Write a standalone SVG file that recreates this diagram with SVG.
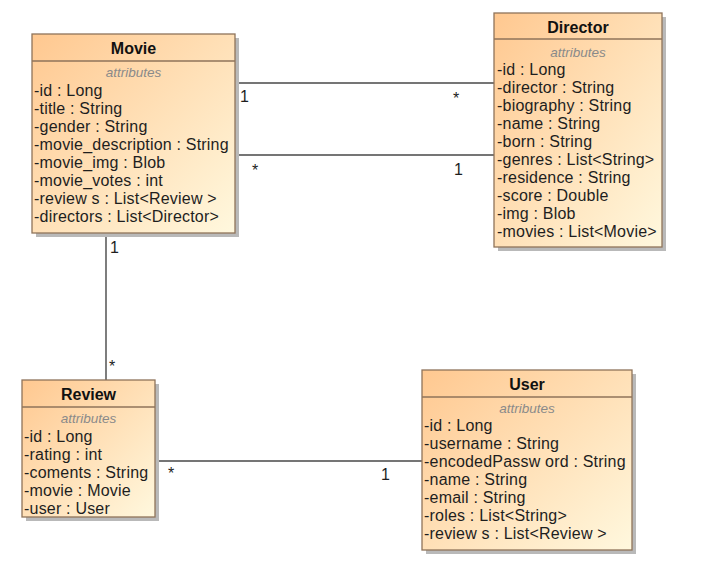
<svg xmlns="http://www.w3.org/2000/svg" width="704" height="572" viewBox="0 0 704 572">
<defs>
<linearGradient id="fill" x1="0" y1="0" x2="1" y2="1">
<stop offset="0" stop-color="#FFC890"/>
<stop offset="1" stop-color="#FFF8DE"/>
</linearGradient>
</defs>
<style>
.shadow{fill:#B9B9B9}
.box{fill:url(#fill);stroke:#8F735A;stroke-width:1.3}
.sep{stroke:#8F735A;stroke-width:1.3}
.title{font-family:"Liberation Sans",Arial,sans-serif;font-size:16px;font-weight:bold;fill:#111;text-anchor:middle}
.attrs{font-family:"Liberation Sans",Arial,sans-serif;font-size:13.5px;font-style:italic;fill:#8A8A8A;text-anchor:middle}
.attr{font-family:"Liberation Sans",Arial,sans-serif;font-size:16px;letter-spacing:0.2px;fill:#1E1E1E}
.conn{stroke:#474747;stroke-width:1.4;fill:none}
.mult{font-family:"Liberation Sans",Arial,sans-serif;font-size:16px;fill:#1E1E1E}
</style>
<rect width="704" height="572" fill="#FFFFFF"/>

<g id="connectors">
<line class="conn" x1="235" y1="83" x2="494" y2="83"/>
<line class="conn" x1="235" y1="155" x2="494" y2="155"/>
<line class="conn" x1="106" y1="233" x2="106" y2="380"/>
<line class="conn" x1="155" y1="461" x2="422" y2="461"/>
<text class="mult" x="240" y="102">1</text>
<text class="mult" x="453" y="104">*</text>
<text class="mult" x="252" y="176">*</text>
<text class="mult" x="454" y="175">1</text>
<text class="mult" x="110" y="253">1</text>
<text class="mult" x="109" y="372">*</text>
<text class="mult" x="168" y="479">*</text>
<text class="mult" x="381" y="480">1</text>
</g>

<g id="Movie">
<rect class="shadow" x="36" y="38" width="203" height="199"/>
<rect class="box" x="32" y="34" width="203" height="199"/>
<line class="sep" x1="32" y1="61" x2="235" y2="61"/>
<text class="title" x="133.5" y="54">Movie</text>
<text class="attrs" x="133.5" y="77">attributes</text>
<text class="attr" x="34" y="96">-id : Long</text>
<text class="attr" x="34" y="114">-title : String</text>
<text class="attr" x="34" y="132">-gender : String</text>
<text class="attr" x="34" y="150">-movie_description : String</text>
<text class="attr" x="34" y="168">-movie_img : Blob</text>
<text class="attr" x="34" y="186">-movie_votes : int</text>
<text class="attr" x="34" y="204">-review s : List&lt;Review &gt;</text>
<text class="attr" x="34" y="222">-directors : List&lt;Director&gt;</text>
</g>

<g id="Director">
<rect class="shadow" x="498" y="17" width="168" height="234"/>
<rect class="box" x="494" y="13" width="168" height="234"/>
<line class="sep" x1="494" y1="39" x2="662" y2="39"/>
<text class="title" x="578" y="33">Director</text>
<text class="attrs" x="578" y="57">attributes</text>
<text class="attr" x="497" y="75">-id : Long</text>
<text class="attr" x="497" y="93">-director : String</text>
<text class="attr" x="497" y="111">-biography : String</text>
<text class="attr" x="497" y="129">-name : String</text>
<text class="attr" x="497" y="147">-born : String</text>
<text class="attr" x="497" y="165">-genres : List&lt;String&gt;</text>
<text class="attr" x="497" y="183">-residence : String</text>
<text class="attr" x="497" y="201">-score : Double</text>
<text class="attr" x="497" y="219">-img : Blob</text>
<text class="attr" x="497" y="237">-movies : List&lt;Movie&gt;</text>
</g>

<g id="Review">
<rect class="shadow" x="26" y="384" width="133" height="137"/>
<rect class="box" x="22" y="380" width="133" height="137"/>
<line class="sep" x1="22" y1="407" x2="155" y2="407"/>
<text class="title" x="88.5" y="400">Review</text>
<text class="attrs" x="88.5" y="423">attributes</text>
<text class="attr" x="24" y="442">-id : Long</text>
<text class="attr" x="24" y="460">-rating : int</text>
<text class="attr" x="24" y="478">-coments : String</text>
<text class="attr" x="24" y="496">-movie : Movie</text>
<text class="attr" x="24" y="514">-user : User</text>
</g>

<g id="User">
<rect class="shadow" x="426" y="374" width="210" height="180"/>
<rect class="box" x="422" y="370" width="210" height="180"/>
<line class="sep" x1="422" y1="397" x2="632" y2="397"/>
<text class="title" x="527" y="390">User</text>
<text class="attrs" x="527" y="413">attributes</text>
<text class="attr" x="424" y="431">-id : Long</text>
<text class="attr" x="424" y="449">-username : String</text>
<text class="attr" x="424" y="467">-encodedPassw ord : String</text>
<text class="attr" x="424" y="485">-name : String</text>
<text class="attr" x="424" y="503">-email : String</text>
<text class="attr" x="424" y="521">-roles : List&lt;String&gt;</text>
<text class="attr" x="424" y="539">-review s : List&lt;Review &gt;</text>
</g>
</svg>
